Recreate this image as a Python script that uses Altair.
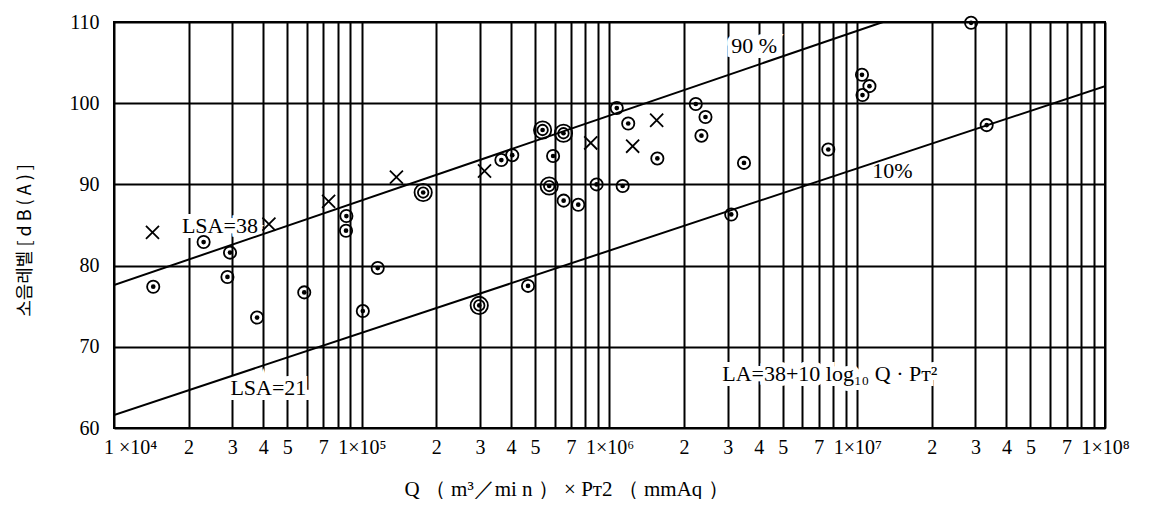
import altair as alt
import pandas as pd

# ---- data ----
circle_x = [2.30e4, 2.94e4, 2.87e4, 1.44e4, 3.78e4, 5.86e4, 8.67e4, 8.64e4, 1.16e5, 1.01e5,
            1.77e5, 3.66e5, 4.05e5, 5.92e5, 5.71e5, 6.53e5, 7.48e5, 2.98e5, 4.69e5, 5.37e5,
            6.52e5, 1.07e6, 1.19e6, 1.56e6, 2.23e6, 2.44e6, 2.35e6, 3.49e6, 8.87e5, 1.13e6,
            3.10e6, 2.88e7, 1.045e7, 1.12e7, 1.05e7, 7.64e6, 3.33e7]
circle_y = [82.9, 81.6, 78.6, 77.4, 73.6, 76.7, 86.1, 84.3, 79.7, 74.4,
            89.0, 93.0, 93.6, 93.5, 89.8, 88.0, 87.5, 75.1, 77.5, 96.7,
            96.3, 99.4, 97.5, 93.2, 99.9, 98.3, 96.0, 92.65, 90.0, 89.8,
            86.3, 109.9, 103.5, 102.1, 101.0, 94.3, 97.3]
circle_double = [0, 0, 0, 0, 0, 0, 0, 0, 0, 0,
                 1, 0, 0, 0, 1, 0, 0, 1, 0, 1,
                 1, 0, 0, 0, 0, 0, 0, 0, 0, 0,
                 0, 0, 0, 0, 0, 0, 0]

cross_x = [1.43e4, 4.22e4, 7.35e4, 1.38e5, 3.13e5, 8.4e5, 1.24e6, 1.55e6]
cross_y = [84.1, 85.1, 87.9, 90.9, 91.65, 95.1, 94.7, 97.9]

line_names = ["90%", "90%", "10%", "10%"]
line_x = [1e4, 1.27e7, 1e4, 1e8]
line_y = [77.6, 110.0, 61.6, 102.1]

x_tick_values = [m * 10 ** e for e in range(4, 8) for m in range(1, 10)] + [10 ** 8]
x_tick_text = []
for e in range(4, 8):
    sup = "⁴⁵⁶⁷"[e - 4]
    for m in range(1, 10):
        if m == 1:
            x_tick_text.append(("1 ×10" if e == 4 else "1×10") + sup)
        elif m in (6, 8, 9):
            x_tick_text.append("")
        else:
            x_tick_text.append(str(m))
x_tick_text.append("1×10⁸")

y_tick_values = [60, 70, 80, 90, 100, 110]

note_text = ["90 %", "10%", "LSA=38", "LSA=21", "LA=38+10 log₁₀ Q · Pᴛ²"]
note_x = [3.1e6, 1.15e7, 1.88e4, 2.95e4, 2.85e6]
note_y = [107.0, 91.6, 84.9, 64.9, 66.6]

# ---- tables ----
circles = pd.DataFrame({"x": circle_x, "y": circle_y, "double": circle_double})
crosses = pd.DataFrame({"x": cross_x, "y": cross_y})
lines = pd.DataFrame({"x": line_x, "y": line_y, "name": line_names})
notes = pd.DataFrame({"x": note_x, "y": note_y, "text": note_text})

label_expr = "''"
for v, t in reversed(list(zip(x_tick_values, x_tick_text))):
    label_expr = f"datum.value == {v} ? '{t}' : ({label_expr})"

SERIF = "Liberation Serif"

x_enc = alt.X(
    "x:Q",
    scale=alt.Scale(type="log", domain=[1e4, 1e8], nice=False),
    axis=alt.Axis(
        values=x_tick_values, labelExpr=label_expr, grid=True, gridColor="black",
        gridWidth=2, gridOpacity=1, ticks=False, domain=False,
        labelFont=SERIF, labelFontSize=20, labelColor="black", labelPadding=9,
        labelOffset={"condition": {"test": "datum.value == 10000", "value": 16}, "value": 0},
        labelOverlap=False, labelFlush=False, labelBound=False,
        title="Q （ m³／mi n ） × Pᴛ2 （ mmAq ）", titleFont=SERIF, titleFontSize=21,
        titleFontWeight="normal", titleColor="black", titleX=452, titleY=61,
        titleAlign="center", titleBaseline="middle",
    ),
)
y_enc = alt.Y(
    "y:Q",
    scale=alt.Scale(domain=[60, 110], nice=False, zero=False),
    axis=alt.Axis(
        values=y_tick_values, grid=True, gridColor="black", gridWidth=2, gridOpacity=1,
        ticks=False, domain=False, labelFont=SERIF, labelFontSize=20, labelColor="black",
        labelPadding=15,
        title="소음레벨 [ d B ( A ) ]", titleFont="Noto Sans CJK KR", titleFontSize=18,
        titleFontWeight="normal", titleColor="black", titleX=-89, titleY=218,
        titleAlign="center", titleBaseline="middle", titleAngle=270,
    ),
)

fit = alt.Chart(lines).mark_line(color="black", strokeWidth=2, clip=True).encode(
    x=x_enc, y=y_enc, detail="name:N"
)

halo = alt.Chart(notes).mark_text(
    font=SERIF, fontSize=22, align="left", baseline="middle",
    stroke="white", strokeWidth=10, color="white"
).encode(x=x_enc, y=y_enc, text="text:N")

label = alt.Chart(notes).mark_text(
    font=SERIF, fontSize=22, align="left", baseline="middle", color="black"
).encode(x=x_enc, y=y_enc, text="text:N")

ring_small = alt.Chart(circles).transform_filter("datum.double == 0").mark_point(
    shape="circle", filled=False, stroke="black", strokeWidth=1.8, size=150, opacity=1
).encode(x=x_enc, y=y_enc)

ring_outer = alt.Chart(circles).transform_filter("datum.double == 1").mark_point(
    shape="circle", filled=False, stroke="black", strokeWidth=1.8, size=300, opacity=1
).encode(x=x_enc, y=y_enc)

ring_inner = alt.Chart(circles).transform_filter("datum.double == 1").mark_point(
    shape="circle", filled=False, stroke="black", strokeWidth=1.8, size=110, opacity=1
).encode(x=x_enc, y=y_enc)

dot = alt.Chart(circles).mark_point(
    shape="circle", filled=True, color="black", size=22, opacity=1
).encode(x=x_enc, y=y_enc)

cross = alt.Chart(crosses).mark_point(
    shape="M -1 -1 L 1 1 M -1 1 L 1 -1", filled=False, stroke="black",
    strokeWidth=1.8, size=170, opacity=1
).encode(x=x_enc, y=y_enc)

chart = alt.layer(halo, fit, label, ring_small, ring_outer, ring_inner, dot, cross).properties(
    width=991, height=406,
    autosize=alt.AutoSizeParams(type="none"),
    padding={"left": 106, "top": 14, "right": 30, "bottom": 71},
    background="white",
).configure_view(stroke="black", strokeWidth=2)

chart.save("out.html", embed_options={"renderer": "svg", "actions": False})
